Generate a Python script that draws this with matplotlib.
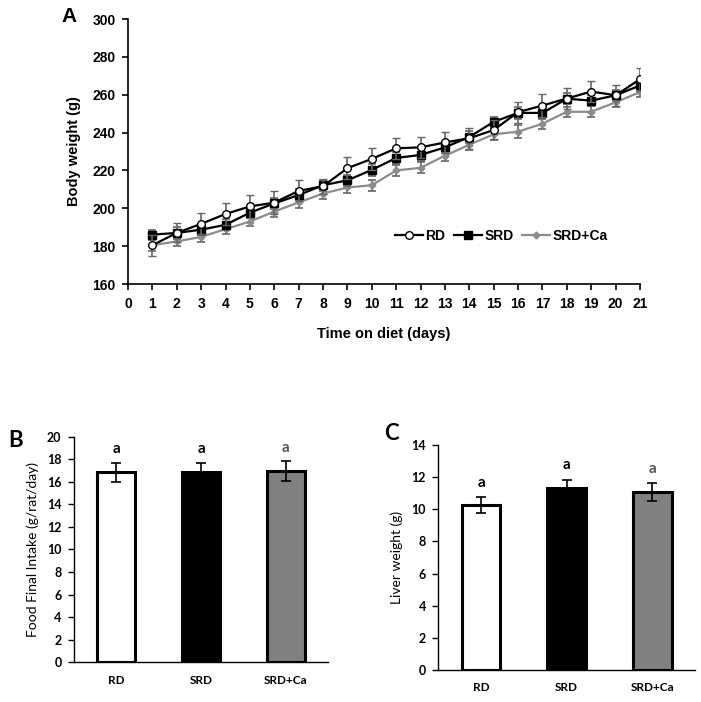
import numpy as np
import matplotlib.pyplot as plt
from matplotlib.lines import Line2D

# -----------------------------
# Data
# -----------------------------
days = list(range(1, 22))

rd = [180.5, 187.0, 191.8, 197.0, 201.0, 203.0, 209.2, 211.7, 221.2, 226.1, 231.7,
      232.2, 234.8, 237.0, 241.4, 250.8, 254.3, 258.0, 261.7, 259.7, 268.2]
rd_err = [5.5, 5.0, 5.6, 5.8, 6.0, 6.0, 5.6, 4.0, 5.8, 5.6, 5.7,
          5.5, 5.5, 5.5, 5.0, 5.5, 6.0, 5.5, 5.6, 5.5, 6.0]

srd = [186.1, 187.0, 188.7, 191.3, 197.7, 202.6, 207.0, 212.2, 214.8, 220.3, 226.6,
       228.2, 232.2, 237.7, 245.7, 250.4, 250.4, 257.9, 256.9, 259.7, 264.9]
srd_err = [2.5, 3.0, 3.0, 3.0, 3.0, 3.0, 3.0, 3.0, 3.0, 3.0, 3.0,
           3.0, 3.0, 3.0, 2.5, 3.0, 3.0, 3.0, 3.0, 3.0, 3.0]

ca = [180.5, 182.5, 184.9, 189.0, 193.0, 198.3, 203.1, 207.8, 211.0, 212.2, 220.0,
      221.4, 227.8, 233.6, 239.1, 240.5, 244.7, 251.0, 251.0, 256.0, 261.4]
ca_err = [3.0, 2.5, 2.8, 2.6, 2.6, 3.0, 3.0, 3.0, 3.0, 3.0, 3.0,
          3.0, 3.0, 3.0, 3.0, 3.5, 3.0, 2.5, 3.0, 2.5, 2.5]

groups = ["RD", "SRD", "SRD+Ca"]
food = [16.85, 16.85, 16.95]
food_err = [0.85, 0.85, 0.85]
liver = [10.27, 11.31, 11.08]
liver_err = [0.52, 0.52, 0.54]
letters = ["a", "a", "a"]

bar_colors = ["white", "black", "#808080"]
letter_colors = ["black", "black", "#555555"]

arial = "Liberation Sans"
calib = "Lato"

fig = plt.figure(figsize=(7.01, 7.02), dpi=100)

# -----------------------------
# A. Body weight over time
# -----------------------------
axA = fig.add_axes([0.1826, 0.5954, 0.7304, 0.3775])
eb = dict(ecolor="#666666", elinewidth=1.2, capsize=3, capthick=1.2)
styles = {
    "RD": dict(color="black", marker="o", ms=5.5, mfc="white", mec="black", mew=1.0),
    "SRD": dict(color="black", marker="s", ms=5.5, mfc="black", mec="black"),
    "SRD+Ca": dict(color="#8c8c8c", marker="D", ms=3.5, mfc="#8c8c8c", mec="#8c8c8c"),
}
axA.errorbar(days, ca, yerr=ca_err, lw=1.6, zorder=2, **styles["SRD+Ca"], **eb)
axA.errorbar(days, srd, yerr=srd_err, lw=1.6, zorder=3, **styles["SRD"], **eb)
axA.errorbar(days, rd, yerr=rd_err, lw=1.6, zorder=4, **styles["RD"], **eb)

axA.set_xlim(0, 21)
axA.set_ylim(160, 300)
axA.set_xticks(range(0, 22))
axA.set_yticks(range(160, 301, 20))
for s in ["top", "right"]:
    axA.spines[s].set_visible(False)
axA.spines["left"].set_linewidth(1.2)
axA.spines["bottom"].set_linewidth(1.2)
axA.tick_params(direction="out", length=4, width=1.2, labelsize=10, pad=5)
for lab in axA.get_xticklabels() + axA.get_yticklabels():
    lab.set_fontfamily(arial)
    lab.set_fontweight("bold")
axA.set_xlabel("Time on diet (days)", fontfamily=arial, fontweight="bold",
               fontsize=10.5, labelpad=12)
axA.set_ylabel("Body weight (g)", fontfamily=arial, fontweight="bold",
               fontsize=10.5, labelpad=8)

handles = [Line2D([], [], lw=1.6, **styles[g]) for g in groups]
axA.legend(handles, groups, loc="center",
           bbox_to_anchor=(0.729, 0.181), ncol=3, frameon=False,
           handlelength=2.0, handletextpad=0.2, columnspacing=0.6,
           prop=dict(family=arial, weight="bold", size=10))
fig.text(0.088, 0.977, "A", fontfamily=arial, fontweight="bold", fontsize=15,
         ha="left", va="center")


# -----------------------------
# B and C. Bar panels
# -----------------------------
def bar_panel(rect, vals, errs, ymax, label_y, ylabel):
    ax = fig.add_axes(rect)
    x = np.arange(len(groups))
    ax.bar(x, vals, width=0.45, color=bar_colors, edgecolor="black", linewidth=2.2,
           zorder=2)
    ax.errorbar(x, vals, yerr=errs, fmt="none", ecolor="black", elinewidth=1.2,
                capsize=3.5, capthick=1.2, zorder=3)
    for xi, yv, t, c in zip(x, label_y, letters, letter_colors):
        ax.text(xi, yv, t, ha="center", va="bottom", fontsize=11, fontweight="bold",
                fontfamily=calib, color=c)
    ax.set_xlim(-0.5, 2.5)
    ax.set_ylim(0, ymax)
    ax.set_yticks(range(0, ymax + 1, 2))
    ax.set_xticks(x)
    ax.set_xticklabels(groups)
    for s in ["top", "right"]:
        ax.spines[s].set_visible(False)
    ax.spines["left"].set_linewidth(1.0)
    ax.spines["bottom"].set_linewidth(1.0)
    ax.tick_params(axis="y", direction="out", length=4, width=1.0, labelsize=9, pad=5)
    ax.tick_params(axis="x", length=0, labelsize=8.5, pad=9)
    for lab in ax.get_xticklabels() + ax.get_yticklabels():
        lab.set_fontfamily(calib)
        lab.set_fontweight("bold")
    ax.set_ylabel(ylabel, fontfamily=calib, fontsize=10, labelpad=6)
    return ax


axB = bar_panel([0.1056, 0.0566, 0.3623, 0.3214], food, food_err, 20,
                [18.3, 18.3, 18.4], "Food Final Intake (g/rat/day)")
fig.text(0.012, 0.373, "B", fontfamily=calib, fontweight="bold", fontsize=16,
         ha="left", va="center")

axC = bar_panel([0.6253, 0.0456, 0.3662, 0.3205], liver, liver_err, 14,
                [11.2, 12.3, 12.1], "Liver weight (g)")
fig.text(0.548, 0.383, "C", fontfamily=calib, fontweight="bold", fontsize=16,
         ha="left", va="center")

fig.savefig("out.png", dpi=100)
